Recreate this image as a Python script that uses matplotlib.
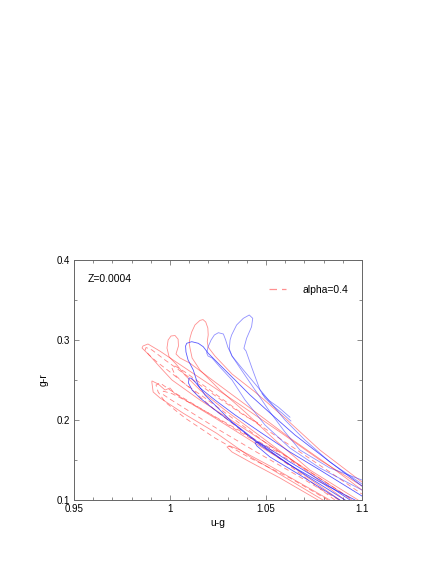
import matplotlib
matplotlib.use('Agg')
import matplotlib.pyplot as plot
from matplotlib.ticker import MultipleLocator

# ---- data (u-g, g-r) ----
# red solid tracks
rs1_x = [1.0948, 1.0833, 1.0573, 1.0365, 1.0156, 1.0010, 0.9948, 0.9896, 0.9854, 0.9859, 0.9885, 0.9948, 1.0010, 1.0156, 1.0365, 1.0573, 1.0781, 1.1]
rs1_y = [0.100, 0.119, 0.160, 0.1925, 0.225, 0.250, 0.266, 0.280, 0.290, 0.2925, 0.295, 0.286, 0.276, 0.2525, 0.219, 0.185, 0.150, 0.1175]
rs2_x = [1.0797, 1.0521, 1.0417, 1.0243, 1.0069, 0.9948, 0.9912, 0.9905, 0.9906, 0.9938, 0.9974, 1.0000, 1.0021, 1.0078, 1.0234, 1.0417, 1.0625, 1.0885]
rs2_y = [0.100, 0.1396, 0.1541, 0.1834, 0.2084, 0.2275, 0.235, 0.2475, 0.2488, 0.245, 0.2375, 0.240, 0.2338, 0.225, 0.2025, 0.175, 0.1438, 0.100]
rs3_x = [1.0912, 1.0677, 1.0469, 1.0286, 1.0156, 1.0078, 1.0031, 0.9995, 0.9984, 0.9990, 1.0005, 1.0026, 1.0042, 1.0044, 1.0031, 1.0052, 1.0104, 1.0234, 1.0417, 1.0625, 1.0833, 1.1]
rs3_y = [0.100, 0.1425, 0.180, 0.2125, 0.2375, 0.256, 0.270, 0.279, 0.290, 0.300, 0.305, 0.3056, 0.301, 0.2925, 0.2825, 0.2775, 0.271, 0.2475, 0.215, 0.1775, 0.1425, 0.1125]
rs4_x = [1.0980, 1.0729, 1.0547, 1.0391, 1.0260, 1.0156, 1.0115, 1.0104, 1.0100, 1.0104, 1.0113, 1.0130, 1.0156, 1.0172, 1.0186, 1.0197, 1.0199, 1.0194, 1.0199, 1.0234, 1.0323, 1.0443, 1.0599, 1.0781, 1.1]
rs4_y = [0.100, 0.1375, 0.175, 0.210, 0.2375, 0.2625, 0.2775, 0.290, 0.296, 0.3025, 0.310, 0.3188, 0.3245, 0.3255, 0.3225, 0.315, 0.3063, 0.2979, 0.291, 0.280, 0.2575, 0.235, 0.2025, 0.1625, 0.1225]
rs5_x = [1.0771, 1.0573, 1.0417, 1.0323, 1.0297, 1.0313, 1.0365, 1.0521, 1.0677, 1.0833]
rs5_y = [0.100, 0.1275, 0.1475, 0.160, 0.16625, 0.1675, 0.1625, 0.1425, 0.12125, 0.100]

# red dashed tracks (alpha=0.4)
rd1_x = [1.0859, 1.0625, 1.0417, 1.0234, 1.0104, 1.0000, 0.9932, 0.9891, 0.9870, 0.9875, 0.9906, 0.9974, 1.0104, 1.0260, 1.0391, 1.0479]
rd1_y = [0.100, 0.1425, 0.17875, 0.2125, 0.240, 0.260, 0.2725, 0.28125, 0.2875, 0.2906, 0.2875, 0.275, 0.2525, 0.22625, 0.205, 0.19375]
rd2_x = [1.0823, 1.0625, 1.0417, 1.0234, 1.0078, 0.9974, 0.9938, 0.9927, 0.9948, 1.0000, 1.0104, 1.0260, 1.0417, 1.0573, 1.0677]
rd2_y = [0.100, 0.1275, 0.1525, 0.1775, 0.2025, 0.2225, 0.235, 0.24375, 0.24625, 0.2375, 0.2225, 0.200, 0.1775, 0.15625, 0.1425]
rd3_x = [1.0938, 1.0729, 1.0521, 1.0339, 1.0182, 1.0078, 1.0026, 1.0010, 1.0026, 1.0078, 1.0208, 1.0365, 1.0521, 1.0677, 1.0833, 1.1]
rd3_y = [0.1025, 0.135, 0.1675, 0.200, 0.2275, 0.245, 0.25625, 0.265, 0.2675, 0.260, 0.2375, 0.210, 0.185, 0.160, 0.135, 0.1075]
rd4_x = [1.0880, 1.0650, 1.0450, 1.0260, 1.0100, 1.0000, 0.9960, 0.9965, 1.0010, 1.0120, 1.0280, 1.0440, 1.0560]
rd4_y = [0.100, 0.1325, 0.160, 0.187, 0.211, 0.226, 0.2325, 0.236, 0.233, 0.2195, 0.198, 0.176, 0.160]

# blue tracks
b1_x = [1.1, 1.0833, 1.0677, 1.0599, 1.0521, 1.0443, 1.0365, 1.0323, 1.0309, 1.0313, 1.0321, 1.0347, 1.0382, 1.0413, 1.0431, 1.0425, 1.0399, 1.0385, 1.0396, 1.0427, 1.0469, 1.0495, 1.0531, 1.0583, 1.0630]
b1_y = [0.125, 0.140, 0.1625, 0.185, 0.210, 0.2375, 0.265, 0.280, 0.28875, 0.300, 0.30625, 0.31875, 0.3271, 0.33125, 0.3271, 0.3166, 0.3021, 0.2896, 0.28625, 0.265, 0.2375, 0.2275, 0.21875, 0.20875, 0.19875]
b2_x = [1.1, 1.0781, 1.0625, 1.0495, 1.0391, 1.0323, 1.0260, 1.0219, 1.0198, 1.0191, 1.0198, 1.0214, 1.0231, 1.0252, 1.0278, 1.0290, 1.0301, 1.0323, 1.0391, 1.0479, 1.0599, 1.0703, 1.0833, 1.1]
b2_y = [0.1125, 0.140, 0.165, 0.19375, 0.225, 0.250, 0.26625, 0.2775, 0.280, 0.28375, 0.29125, 0.300, 0.30625, 0.30913, 0.3075, 0.300, 0.29125, 0.280, 0.260, 0.235, 0.200, 0.175, 0.1475, 0.120]
b3_x = [1.0912, 1.0729, 1.0573, 1.0443, 1.0323, 1.0234, 1.0182, 1.0165, 1.0146, 1.0121, 1.0094, 1.0083, 1.0081, 1.0087, 1.0113, 1.0147, 1.0173, 1.0199, 1.0260, 1.0339, 1.0417, 1.0521, 1.0651, 1.0807, 1.1]
b3_y = [0.100, 0.1275, 0.1525, 0.175, 0.1975, 0.21875, 0.23125, 0.2375, 0.24375, 0.2625, 0.275, 0.285, 0.2925, 0.2959, 0.2979, 0.2959, 0.2916, 0.2834, 0.26875, 0.250, 0.23125, 0.20875, 0.18125, 0.1525, 0.1175]
b4_x = [1.0964, 1.0781, 1.0625, 1.0469, 1.0339, 1.0234, 1.0156, 1.0115, 1.0096, 1.0099, 1.0113, 1.0135, 1.0156, 1.0182, 1.0234, 1.0339, 1.0469, 1.0625, 1.0781, 1.1]
b4_y = [0.100, 0.1225, 0.14375, 0.16875, 0.19375, 0.2125, 0.2275, 0.2375, 0.24625, 0.2525, 0.2521, 0.24625, 0.240, 0.235, 0.225, 0.20625, 0.185, 0.160, 0.1375, 0.105]
b5_x = [1.0885, 1.0677, 1.0521, 1.0453, 1.0443, 1.0458, 1.0495, 1.0625, 1.0781, 1.0938]
b5_y = [0.100, 0.13125, 0.15375, 0.1675, 0.17125, 0.1725, 0.1675, 0.1475, 0.125, 0.100]
b6_x = [1.0480, 1.0515, 1.0565, 1.0625]
b6_y = [0.2330, 0.2245, 0.2160, 0.2035]

xticks = [0.95, 1.0, 1.05, 1.1]
xticklabels = ['0.95', '1', '1.05', '1.1']
yticks = [0.1, 0.2, 0.3, 0.4]
yticklabels = ['0.1', '0.2', '0.3', '0.4']

matplotlib.rcParams['font.family'] = ['Liberation Sans', 'DejaVu Sans']

fig = plot.figure(figsize=(4.36, 5.64), dpi=100)
ax = fig.add_subplot(111)
fig.subplots_adjust(left=0.17, right=0.83, bottom=0.1135, top=0.539)

lw = 0.6
red_solid = [(rs1_x, rs1_y), (rs2_x, rs2_y), (rs3_x, rs3_y), (rs4_x, rs4_y), (rs5_x, rs5_y)]
for xs, ys in red_solid:
    ax.plot(xs, ys, color='#ff2020', alpha=0.5, lw=lw)

red_dash = [(rd1_x, rd1_y), (rd2_x, rd2_y), (rd3_x, rd3_y), (rd4_x, rd4_y)]
for i, (xs, ys) in enumerate(red_dash):
    ax.plot(xs, ys, color='#ff2020', alpha=0.55, lw=lw, ls=(0, (6, 4)),
            label='alpha=0.4' if i == 0 else None)

blue_light = [(b1_x, b1_y), (b2_x, b2_y), (b6_x, b6_y)]
for xs, ys in blue_light:
    ax.plot(xs, ys, color='#2020ff', alpha=0.5, lw=lw)
blue_dark = [(b3_x, b3_y), (b4_x, b4_y), (b5_x, b5_y)]
for xs, ys in blue_dark:
    ax.plot(xs, ys, color='#2020ff', alpha=0.75, lw=lw)

ax.set_xlim(0.95, 1.1)
ax.set_ylim(0.1, 0.4)
ax.set_xticks(xticks)
ax.set_xticklabels(xticklabels)
ax.set_yticks(yticks)
ax.set_yticklabels(yticklabels)
ax.xaxis.set_minor_locator(MultipleLocator(0.01))
ax.yaxis.set_minor_locator(MultipleLocator(0.05))
ax.tick_params(which='both', direction='in', top=True, right=True, labelsize=7, color='#777777', width=0.6)
ax.tick_params(which='major', length=3.5, pad=3)
ax.tick_params(which='minor', length=2.2)
for s in ax.spines.values():
    s.set_color('#666666')
    s.set_linewidth(0.7)

ax.set_xlabel('u-g', fontsize=7.5, labelpad=3)
ax.set_ylabel('g-r', fontsize=7.5, labelpad=6)
ax.text(0.048, 0.92, 'Z=0.0004', transform=ax.transAxes, fontsize=7.5, va='center')

leg = ax.legend(loc='upper left', bbox_to_anchor=(0.645, 0.935), frameon=False, fontsize=7.5,
                handlelength=1.6, handletextpad=1.6)
for h in leg.get_lines():
    h.set_color('#ff9090')
    h.set_alpha(1.0)
    h.set_linewidth(0.9)

fig.savefig('out.png', dpi=100)
